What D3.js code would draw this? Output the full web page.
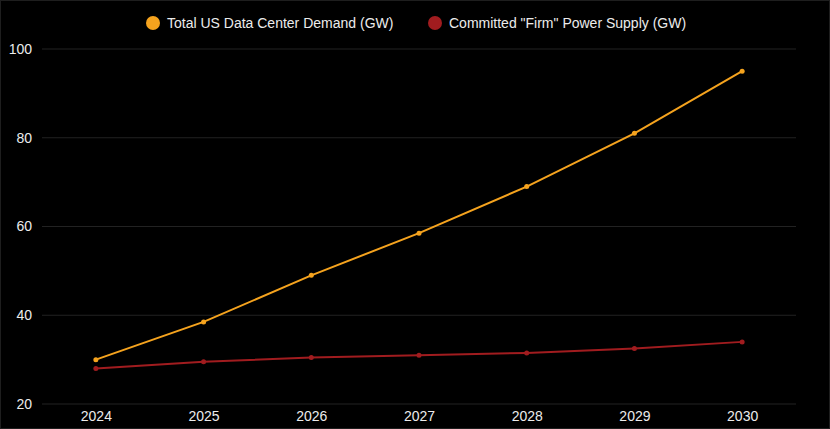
<!DOCTYPE html>
<html>
<head>
<meta charset="utf-8">
<script src="https://cdn.jsdelivr.net/npm/d3@7"></script>
<style>
  body { margin: 0; background: #000; }
  svg { display: block; }
</style>
</head>
<body>
<script>
let years = ["2024", "2025", "2026", "2027", "2028", "2029", "2030"];
let demand = [30, 38.5, 49, 58.5, 69, 81, 95];
let supply = [28, 29.5, 30.5, 31, 31.5, 32.5, 34];
let yTicks = [20, 40, 60, 80, 100];
let seriesNames = ["Total US Data Center Demand (GW)", "Committed \"Firm\" Power Supply (GW)"];
let seriesColors = ["#f5a31e", "#a11c1f"];

var width = 830, height = 429;
var margin = {top: 49, right: 34, bottom: 25, left: 42};

var svg = d3.select("body")
            .append("svg")
            .attr("width", width)
            .attr("height", height)
            .style("font-family", "'Liberation Sans', Arial, sans-serif");

svg.append("rect")
    .attr("x", 0.5).attr("y", 0.5)
    .attr("width", width - 1).attr("height", height - 1)
    .attr("fill", "#000")
    .attr("stroke", "#1e1e1e");

var x = d3.scalePoint()
          .domain(years)
          .range([margin.left, width - margin.right])
          .padding(0.5);

var y = d3.scaleLinear()
          .domain([20, 100])
          .range([height - margin.bottom, margin.top]);

// gridlines
svg.append("g")
    .selectAll("line")
    .data(yTicks)
    .join("line")
    .attr("x1", margin.left)
    .attr("x2", width - margin.right)
    .attr("y1", d => y(d))
    .attr("y2", d => y(d))
    .attr("stroke", "#222")
    .attr("stroke-width", 1);

// y axis labels
var yAxis = svg.append("g")
    .attr("transform", "translate(" + (margin.left - 10) + ",0)")
    .call(d3.axisLeft(y).tickValues(yTicks).tickSize(0).tickPadding(0));
yAxis.select(".domain").remove();
yAxis.selectAll("text")
    .attr("fill", "#ececec")
    .style("font-size", "14px");

// x axis labels
var xAxis = svg.append("g")
    .attr("transform", "translate(0," + (height - margin.bottom + 7) + ")")
    .call(d3.axisBottom(x).tickSize(0).tickPadding(0));
xAxis.select(".domain").remove();
xAxis.selectAll("text")
    .attr("fill", "#ececec")
    .style("font-size", "14px");

var line = d3.line()
             .x((d, i) => x(years[i]))
             .y(d => y(d));

[demand, supply].forEach(function(vals, k) {
  svg.append("path")
      .datum(vals)
      .attr("fill", "none")
      .attr("stroke", seriesColors[k])
      .attr("stroke-width", 2)
      .attr("d", line);

  svg.append("g")
      .selectAll("circle")
      .data(vals)
      .join("circle")
      .attr("cx", (d, i) => x(years[i]))
      .attr("cy", d => y(d))
      .attr("r", 2.5)
      .attr("fill", seriesColors[k]);
});

// legend
var legendX = [153, 435];
seriesNames.forEach(function(name, k) {
  var g = svg.append("g").attr("transform", "translate(" + legendX[k] + ",23)");
  g.append("circle")
      .attr("r", 7)
      .attr("fill", seriesColors[k]);
  g.append("text")
      .attr("x", 14)
      .attr("dy", "0.35em")
      .attr("fill", "#ececec")
      .style("font-size", "14px")
      .text(name);
});
</script>
</body>
</html>
